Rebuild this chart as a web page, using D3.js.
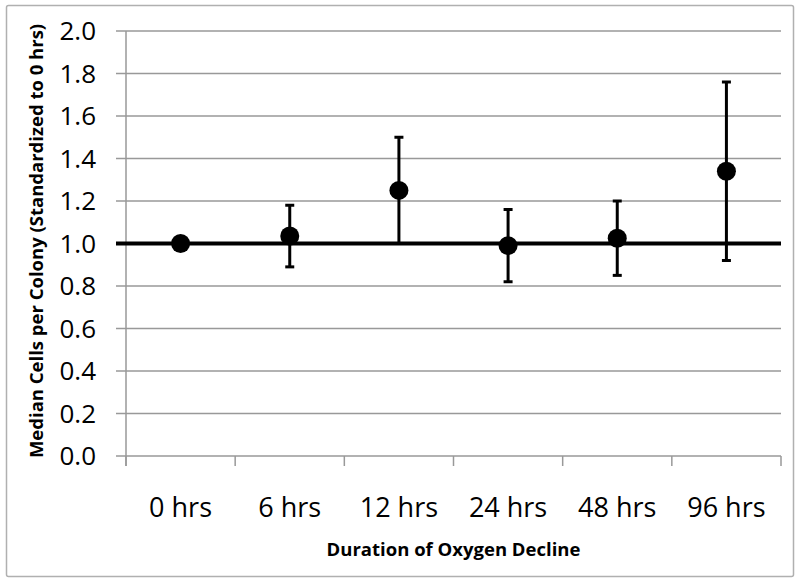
<!DOCTYPE html>
<html>
<head>
<meta charset="utf-8">
<script src="https://cdn.jsdelivr.net/npm/d3@7"></script>
<style>
  body { margin: 0; background: #fff; }
  svg { font-family: "Open Sans", "Noto Sans", sans-serif; }
  .grid line { stroke: #999; stroke-width: 1.5; }
  .axis path, .axis line { stroke: #999; stroke-width: 1.5; }
  .ytick-label { font-size: 26px; fill: #000; }
  .xtick-label { font-size: 27px; fill: #000; }
  .title { font-size: 18.5px; font-weight: bold; fill: #000; }
</style>
</head>
<body>
<svg width="800" height="583"></svg>
<script>
const categories = ["0 hrs", "6 hrs", "12 hrs", "24 hrs", "48 hrs", "96 hrs"];
const medians    = [1.00, 1.035, 1.25, 0.99, 1.025, 1.34];
const upper      = [1.00, 1.18, 1.50, 1.16, 1.20, 1.76];
const lower      = [1.00, 0.89, 1.00, 0.82, 0.85, 0.92];
const yTicks     = [0, 0.2, 0.4, 0.6, 0.8, 1.0, 1.2, 1.4, 1.6, 1.8, 2.0];
const baseline   = 1.0;

window.onload = () => {
  const svg = d3.select("svg");
  const margin = { top: 31, left: 126, right: 19, bottom: 127 };
  const width = +svg.attr("width");
  const height = +svg.attr("height");
  const w = width - margin.left - margin.right;
  const h = height - margin.top - margin.bottom;

  const data = categories.map((c, i) => ({
    cat: c, value: medians[i], hi: upper[i], lo: lower[i]
  }));

  // outer chart frame
  svg.append("rect")
      .attr("x", 6.5).attr("y", 5.5)
      .attr("width", 787).attr("height", 571)
      .attr("rx", 2)
      .attr("fill", "#fff")
      .attr("stroke", "#b0b0b0")
      .attr("stroke-width", 1.5);

  const x = d3.scaleBand()
    .domain(categories)
    .range([margin.left, margin.left + w]);

  const y = d3.scaleLinear()
    .domain([0, 2])
    .range([margin.top + h, margin.top]);

  // horizontal gridlines + y ticks
  svg.append("g")
      .attr("class", "grid")
    .selectAll("line")
    .data(yTicks.filter(d => d !== 0 && d !== baseline))
    .join("line")
      .attr("x1", margin.left - 10)
      .attr("x2", margin.left + w)
      .attr("y1", d => y(d))
      .attr("y2", d => y(d));

  svg.append("g")
      .attr("class", "axis")
      .call(g => g.append("line")
        .attr("x1", margin.left).attr("x2", margin.left)
        .attr("y1", y(2)).attr("y2", y(0) + 10))
      .call(g => g.append("line")
        .attr("x1", margin.left - 10).attr("x2", margin.left + w)
        .attr("y1", y(0)).attr("y2", y(0)))
      .call(g => g.selectAll(".xtick")
        .data(categories.map(c => x(c)).concat([margin.left + w]))
        .join("line")
          .attr("class", "xtick")
          .attr("x1", d => d).attr("x2", d => d)
          .attr("y1", y(0)).attr("y2", y(0) + 10));

  svg.append("g")
    .selectAll("text")
    .data(yTicks)
    .join("text")
      .attr("class", "ytick-label")
      .attr("x", margin.left - 30)
      .attr("y", d => y(d))
      .attr("dy", "0.36em")
      .attr("text-anchor", "end")
      .text(d => d.toFixed(1));

  svg.append("g")
    .selectAll("text")
    .data(categories)
    .join("text")
      .attr("class", "xtick-label")
      .attr("x", d => x(d) + x.bandwidth() / 2)
      .attr("y", 517)
      .attr("text-anchor", "middle")
      .text(d => d);

  // reference line at 1.0
  svg.append("line")
      .attr("x1", margin.left - 10).attr("x2", margin.left + w)
      .attr("y1", y(baseline)).attr("y2", y(baseline))
      .attr("stroke", "#000")
      .attr("stroke-width", 4);

  const cx = d => x(d.cat) + x.bandwidth() / 2;

  const bars = svg.append("g")
    .selectAll("g")
    .data(data.filter(d => d.hi !== d.lo))
    .join("g")
      .attr("stroke", "#000")
      .attr("stroke-width", 3);

  bars.append("line")
      .attr("x1", cx).attr("x2", cx)
      .attr("y1", d => y(d.hi)).attr("y2", d => y(d.lo));
  bars.append("line")
      .attr("x1", d => cx(d) - 4.5).attr("x2", d => cx(d) + 4.5)
      .attr("y1", d => y(d.hi)).attr("y2", d => y(d.hi));
  bars.filter(d => d.lo !== baseline)
    .append("line")
      .attr("x1", d => cx(d) - 4.5).attr("x2", d => cx(d) + 4.5)
      .attr("y1", d => y(d.lo)).attr("y2", d => y(d.lo));

  svg.append("g")
    .selectAll("circle")
    .data(data)
    .join("circle")
      .attr("cx", cx)
      .attr("cy", d => y(d.value))
      .attr("r", 9.5)
      .attr("fill", "#000");

  svg.append("text")
      .attr("class", "title")
      .attr("x", margin.left + w / 2)
      .attr("y", 556)
      .attr("text-anchor", "middle")
      .text("Duration of Oxygen Decline");

  svg.append("text")
      .attr("class", "title")
      .attr("transform", `translate(43, ${241}) rotate(-90)`)
      .attr("text-anchor", "middle")
      .text("Median Cells per Colony (Standardized to 0 hrs)");
};
</script>
</body>
</html>
